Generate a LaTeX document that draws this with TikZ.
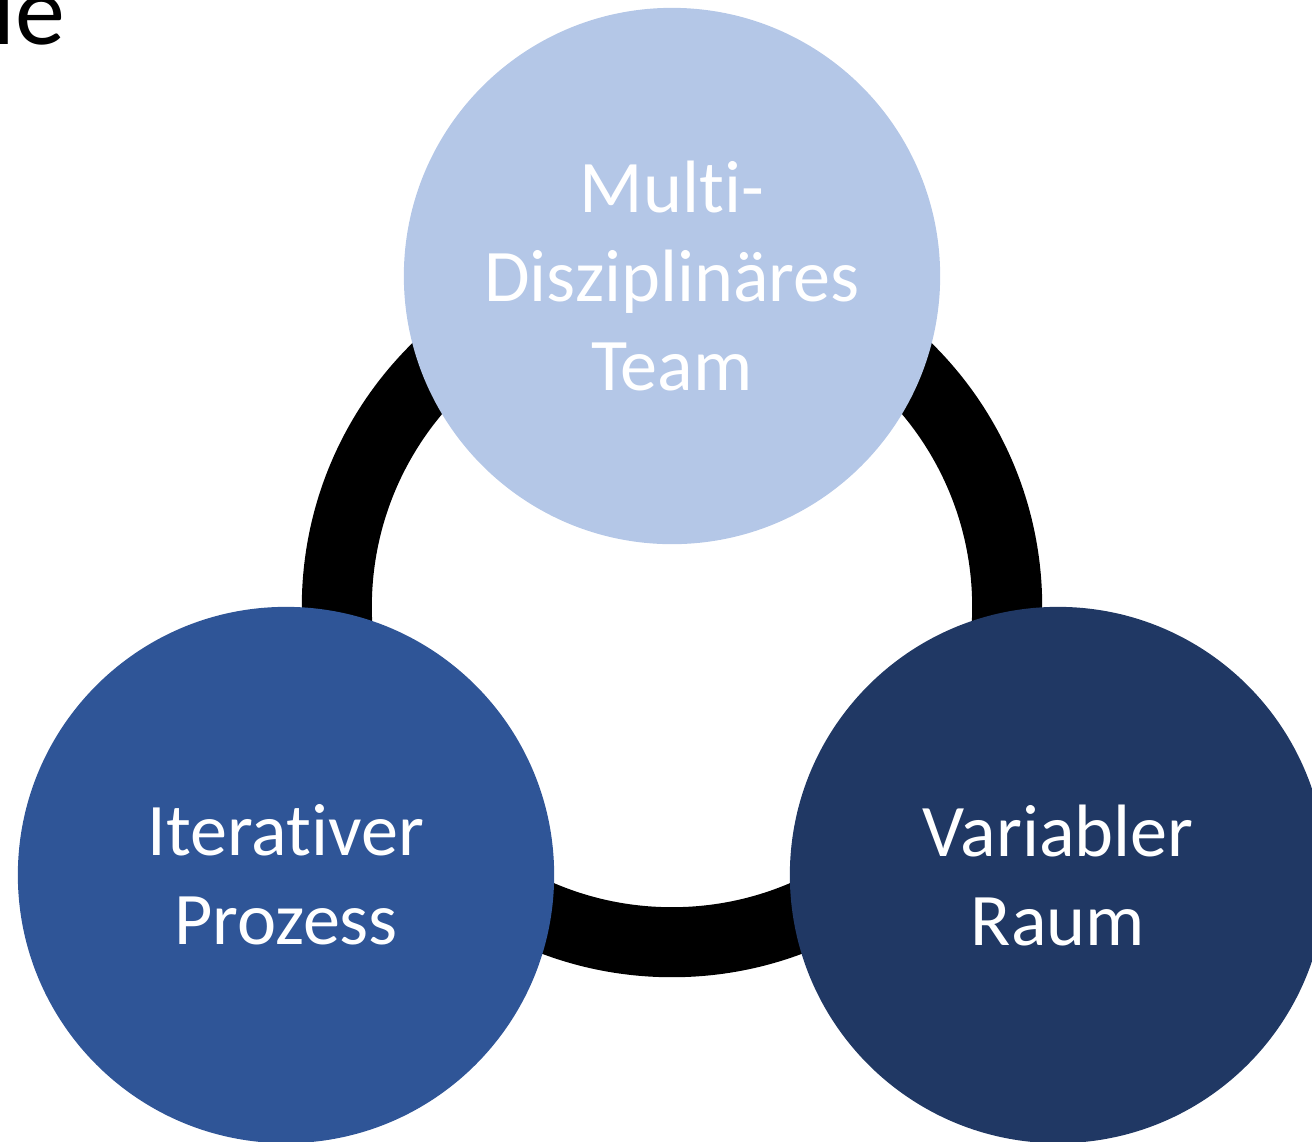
\documentclass[tikz,border=0pt]{standalone}
\usepackage{fontspec}
\setmainfont{Carlito}[Ligatures=NoCommon]
\usepackage{xcolor}
\definecolor{light}{HTML}{B4C7E7}
\definecolor{mid}{HTML}{2F5597}
\definecolor{dark}{HTML}{203864}

\tikzset{
  bubble/.style={circle,minimum size=5.36cm,inner sep=0pt,text=white,align=center,
    font=\fontsize{21.1pt}{25.3pt}\selectfont}
}

\begin{document}
\begin{tikzpicture}[x=0.01cm,y=-0.01cm]
  \useasboundingbox (0,0) rectangle (1312,1141);
  % cut-off title
  \node[anchor=base east,inner sep=0pt,font=\fontsize{28.4pt}{30pt}\selectfont] (title) at (66,44) {le};
  % ring behind the circles
  \coordinate (hub) at (672,607);
  \draw[line width=0.7cm] (hub) circle[radius=3.35cm];
  \node[bubble,fill=light] (team) at (672,276) {Multi-\\Disziplinäres\\Team};
  \node[bubble,fill=mid] (prozess) at (286,875) {Iterativer\\Prozess};
  \node[bubble,fill=dark] (raum) at (1058,875) {Variabler\\Raum};
\end{tikzpicture}
\end{document}
